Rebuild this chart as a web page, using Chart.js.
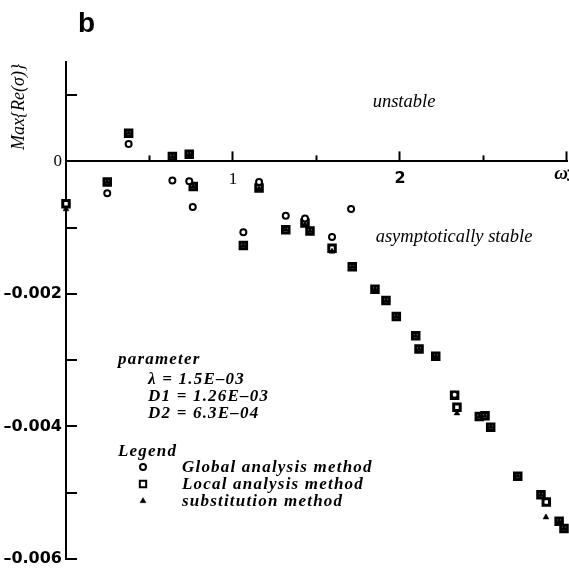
<!DOCTYPE html>
<html>
<head>
<meta charset="utf-8">
<script src="https://cdn.jsdelivr.net/npm/chart.js@4/dist/chart.umd.min.js"></script>
<style>
html,body{margin:0;padding:0;background:#fff;}
canvas{display:block;}
</style>
</head>
<body>
<canvas id="c" width="569" height="574"></canvas>
<script>
// ---- data ----
const globalX = [0.375, 0.247, 0.637, 0.738, 0.759, 1.156, 1.062, 1.316, 1.431, 1.593, 1.707, 2.327];
const globalY = [0.000264, -0.00048, -0.00029, -0.00030, -0.00069, -0.00031, -0.00107, -0.00082, -0.00086, -0.00114, -0.00072, -0.00352];

const localX = [0, 0.247, 0.375, 0.637, 0.738, 0.762, 1.062, 1.156, 1.316, 1.431, 1.461, 1.593, 1.714, 1.850, 1.916, 1.978, 2.094, 2.114, 2.214, 2.327, 2.341, 2.475, 2.509, 2.543, 2.705, 2.844, 2.876, 2.953, 2.982];
const localY = [-0.00064, -0.00031, 0.000426, 0.000073, 0.000109, -0.00038, -0.00127, -0.00040, -0.00103, -0.00093, -0.00105, -0.00131, -0.00159, -0.00193, -0.00210, -0.00234, -0.00263, -0.00283, -0.00294, -0.00353, -0.00371, -0.00385, -0.00384, -0.00401, -0.00475, -0.00503, -0.00514, -0.00543, -0.00554];

const substX = [0, 0.247, 0.375, 0.637, 0.738, 0.762, 1.062, 1.156, 1.316, 1.431, 1.461, 1.593, 1.714, 1.850, 1.916, 1.978, 2.094, 2.114, 2.214, 2.341, 2.475, 2.509, 2.543, 2.705, 2.844, 2.874, 2.953, 2.982];
const substY = [-0.00072, -0.00031, 0.000426, 0.000073, 0.000109, -0.00038, -0.00127, -0.00041, -0.00103, -0.00095, -0.00105, -0.00136, -0.00159, -0.00193, -0.00210, -0.00234, -0.00263, -0.00283, -0.00294, -0.00380, -0.00385, -0.00384, -0.00401, -0.00475, -0.00503, -0.00537, -0.00543, -0.00554];

const xTickValues = [0.5, 1, 1.5, 2, 2.5, 3];
const xTickLabels = {1: '1', 2: '2'};
const yTickValues = [0.001, 0, -0.001, -0.002, -0.003, -0.004, -0.005, -0.006];
const yTickLabels = {'0': '0', '-0.002': '\u20130.002', '-0.004': '\u20130.004', '-0.006': '\u20130.006'};

const seriesNames = ['Global analysis method', 'Local analysis method', 'substitution method'];
const paramLines = ['\u03bb = 1.5E\u201303', 'D1 = 1.26E\u201303', 'D2 = 6.3E\u201304'];

const toPts = (xs, ys) => xs.map((v, i) => ({x: v, y: ys[i]}));

const SERIF = '"Liberation Serif", "DejaVu Serif", serif';
const SANS = '"Liberation Sans", Arial, sans-serif';
const DSANS = '"DejaVu Sans", sans-serif';

const circleStyle = {pointStyle: 'circle', radius: 3, borderWidth: 2, borderColor: '#000', backgroundColor: '#fff'};
const squareStyle = {pointStyle: 'rect', radius: 4.6, borderWidth: 3, borderColor: '#000', backgroundColor: '#fff'};
const triStyle = {pointStyle: 'triangle', radius: 3.4, borderWidth: 0.5, borderColor: '#000', backgroundColor: '#000'};

const annotate = {
  id: 'annotate',
  afterDraw(chart) {
    const {ctx, scales: {x, y}} = chart;
    ctx.save();
    ctx.strokeStyle = '#000';
    ctx.lineWidth = 2;
    // inward y ticks
    yTickValues.forEach(v => {
      if (v === 0) return;
      const py = Math.round(y.getPixelForValue(v));
      ctx.beginPath(); ctx.moveTo(x.left, py); ctx.lineTo(x.left + 11, py); ctx.stroke();
    });
    // upward x ticks
    const y0 = y.getPixelForValue(0);
    xTickValues.forEach(v => {
      const px = Math.round(x.getPixelForValue(v)) - 0.5;
      const len = Number.isInteger(v) ? 10 : 6;
      ctx.beginPath(); ctx.moveTo(px, y0); ctx.lineTo(px, y0 - len); ctx.stroke();
    });

    ctx.fillStyle = '#000';
    ctx.textBaseline = 'alphabetic';
    // panel letter
    ctx.font = 'bold 28px ' + SANS;
    ctx.textAlign = 'left';
    ctx.fillText('b', 78, 32);

    // y title
    ctx.save();
    ctx.translate(24, 107);
    ctx.rotate(-Math.PI / 2);
    ctx.textAlign = 'center';
    ctx.font = 'italic 18px ' + SERIF;
    ctx.fillText('Max{Re(\u03c3)}', 0, 0);
    ctx.restore();

    // omega 3 at x end
    const p3 = x.getPixelForValue(3);
    ctx.font = 'bold 16px ' + DSANS;
    ctx.textAlign = 'left';
    ctx.fillText('3', p3 - 1, y0 + 20);
    ctx.font = 'bold italic 19px ' + SERIF;
    ctx.textAlign = 'right';
    ctx.fillText('\u03c9', p3 + 1, y0 + 18);

    // region labels
    ctx.textAlign = 'center';
    ctx.font = 'italic 18.5px ' + SERIF;
    ctx.fillText('unstable', 404, 107);
    ctx.fillText('asymptotically stable', 454, 242);

    // parameter block
    ctx.textAlign = 'left';
    ctx.font = 'bold italic 17px ' + SERIF;
    ctx.letterSpacing = '1.2px';
    ctx.fillText('parameter', 118, 364);
    paramLines.forEach((t, i) => ctx.fillText(t, 148, 384 + i * 17));
    ctx.fillText('Legend', 118, 456);
    const styles = [circleStyle, squareStyle, triStyle];
    seriesNames.forEach((t, i) => {
      const yy = 472 + i * 17;
      ctx.font = 'bold italic 17px ' + SERIF;
      ctx.fillStyle = '#000';
      ctx.fillText(t, 182, yy);
      const s = styles[i];
      ctx.save();
      ctx.strokeStyle = s.borderColor; ctx.fillStyle = s.backgroundColor;
      const bw = i === 1 ? 2 : s.borderWidth;
      ctx.lineWidth = bw;
      const r = i === 1 ? 4.5 : s.radius;
      Chart.helpers.drawPoint(ctx, {pointStyle: s.pointStyle, radius: r, rotation: 0, borderWidth: bw}, 143, yy - 5);
      ctx.restore();
    });
    ctx.restore();
  }
};

const ds = (label, data, st) => ({
  label, data,
  pointStyle: st.pointStyle, pointRadius: st.radius, pointBorderWidth: st.borderWidth,
  pointBorderColor: st.borderColor, pointBackgroundColor: st.backgroundColor,
  showLine: false, clip: false
});

new Chart(document.getElementById('c'), {
  type: 'scatter',
  data: {
    datasets: [
      ds(seriesNames[0], toPts(globalX, globalY), circleStyle),
      ds(seriesNames[2], toPts(substX, substY), triStyle),
      ds(seriesNames[1], toPts(localX, localY), squareStyle)
    ]
  },
  options: {
    responsive: false,
    devicePixelRatio: 1,
    animation: false,
    layout: {autoPadding: false, padding: {top: 62, right: 2, bottom: 15, left: 0}},
    plugins: {legend: {display: false}, tooltip: {enabled: false}},
    scales: {
      x: {
        type: 'linear', min: 0, max: 3,
        position: {y: 0},
        afterBuildTicks: s => { s.ticks = xTickValues.map(v => ({value: v})); },
        afterFit: s => { s.paddingLeft = 0; s.paddingRight = 0; },
        grid: {display: false, drawTicks: false, tickLength: 0},
        border: {display: true, color: '#000', width: 2},
        ticks: {
          padding: 8, color: '#000', maxRotation: 0, autoSkip: false,
          callback: v => xTickLabels[v] || '',
          font: c => (c.tick && c.tick.value === 1) ? {family: SERIF, size: 17} : {family: DSANS, size: 16, weight: 'bold'}
        }
      },
      y: {
        type: 'linear', min: -0.006, max: 0.0015,
        afterBuildTicks: s => { s.ticks = yTickValues.map(v => ({value: v})); },
        afterFit: s => { s.width = 66; },
        grid: {display: false, drawTicks: false, tickLength: 0},
        border: {display: true, color: '#000', width: 2},
        ticks: {
          padding: 4, color: '#000', autoSkip: false,
          callback: v => yTickLabels[String(Math.round(v * 1000) / 1000)] || '',
          font: c => (c.tick && c.tick.value === 0) ? {family: SERIF, size: 17} : {family: DSANS, size: 16, weight: 'bold'}
        }
      }
    }
  },
  plugins: [annotate]
});
</script>
</body>
</html>
